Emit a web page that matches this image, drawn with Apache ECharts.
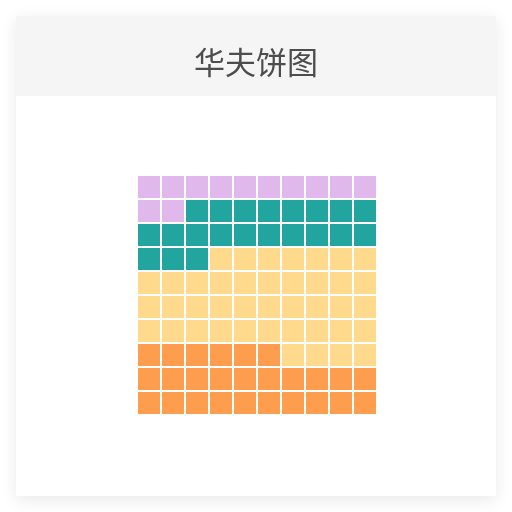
<!DOCTYPE html>
<html>
<head>
<meta charset="utf-8">
<script src="https://cdn.jsdelivr.net/npm/echarts@6/dist/echarts.min.js"></script>
<style>
  html, body { margin: 0; padding: 0; background: #ffffff; width: 512px; height: 512px; overflow: hidden; }
  #card { position: absolute; left: 16px; top: 16px; width: 480px; height: 480px; background: #ffffff;
          box-shadow: 0 4px 16px rgba(0,0,0,0.09); }
  #chart { width: 480px; height: 480px; }
</style>
</head>
<body>
<div id="card"><div id="chart"></div></div>
<script>
// Data
const titleText = '华夫饼图';
const categories = ['A', 'B', 'C', 'D'];
const values = [12, 21, 41, 26];
const colors = ['#e0b8ec', '#22a59f', '#ffd98c', '#ff9d4e'];
const cols = ['1','2','3','4','5','6','7','8','9','10'];
const rows = ['1','2','3','4','5','6','7','8','9','10'];

// Assign cells: first categories fill from top-left, last from bottom-left, middle takes the rest
const nC = cols.length, nR = rows.length;
const owner = new Array(nC * nR).fill(-1);
let t = 0;
for (let ci = 0; ci < 2; ci++) {
  for (let k = 0; k < values[ci]; k++) owner[t++] = ci;
}
let b = 0;
const last = categories.length - 1;
for (let k = 0; k < values[last]; k++) {
  const r = nR - 1 - Math.floor(b / nC);
  const c = b % nC;
  owner[r * nC + c] = last;
  b++;
}
for (let i = 0; i < owner.length; i++) if (owner[i] === -1) owner[i] = 2;

const series = categories.map(function (name, ci) {
  const pts = [];
  owner.forEach(function (o, i) {
    if (o === ci) pts.push([cols[i % nC], rows[Math.floor(i / nC)]]);
  });
  return {
    name: name,
    type: 'scatter',
    symbol: 'rect',
    symbolSize: 22,
    itemStyle: { color: colors[ci], opacity: 1 },
    data: pts,
    silent: true
  };
});

const chart = echarts.init(document.getElementById('chart'), null, { renderer: 'canvas' });
chart.setOption({
  animation: false,
  backgroundColor: '#ffffff',
  graphic: [{
    type: 'rect', z: -10, silent: true,
    shape: { x: 0, y: 0, width: 480, height: 80 },
    style: { fill: '#f5f5f5' }
  }],
  title: {
    text: titleText,
    left: 'center',
    top: 26,
    textStyle: { fontSize: 31, fontWeight: 'normal', color: '#4d4d4d', fontFamily: 'Noto Sans CJK SC' }
  },
  grid: { left: 121, top: 159, width: 240, height: 240 },
  xAxis: { type: 'category', data: cols, show: false },
  yAxis: { type: 'category', data: rows, inverse: true, show: false },
  series: series
});
</script>
</body>
</html>
